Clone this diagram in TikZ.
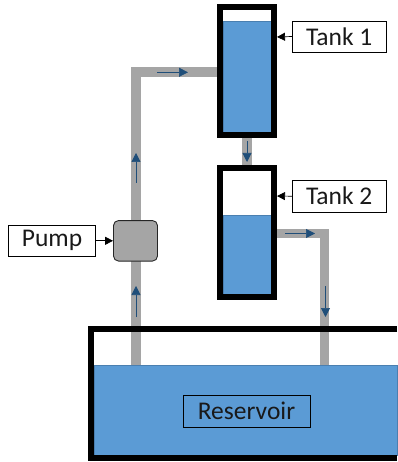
\documentclass[tikz,border=0pt]{standalone}
\usepackage{fontspec}
\setmainfont{Carlito}
\usetikzlibrary{arrows.meta}
\definecolor{water}{HTML}{5B9BD5}
\definecolor{waterb}{HTML}{4A7FB0}
\definecolor{pipec}{HTML}{A5A5A5}
\definecolor{flow}{HTML}{1F4E79}
\tikzset{
  pipe/.style={draw=pipec,line width=9.5pt,line cap=butt,line join=miter},
  flowarrow/.style={draw=flow,line width=0.7pt,-{Triangle[length=9pt,width=9pt]}},
  callout/.style={draw=black,line width=0.7pt,-{Triangle[length=8pt,width=8pt]}},
  wat/.style={fill=water,draw=waterb,line width=0.6pt},
  wall/.style={draw=black,line width=6pt,line join=miter},
  labelbox/.style={draw=black,line width=0.9pt,inner sep=0pt,font=\fontsize{25.5}{27}\selectfont,text=black!90}
}
\begin{document}
\begin{tikzpicture}[x=1pt,y=-1pt]
\useasboundingbox (0,0) rectangle (397,462);
% water
\fill[wat] (223,21) rectangle (271,132);
\fill[wat] (223,215) rectangle (271,294);
\fill[wat] (94,365) rectangle (397,455);
% named anchors
\coordinate (resL) at (136,365);
\coordinate (resR) at (324.5,365);
\coordinate (t1L) at (217,72);
\coordinate (t1B) at (247,138);
\coordinate (t2T) at (247,165);
\coordinate (t2R) at (277,233.5);
\coordinate (cornerA) at (136,72);
\coordinate (cornerB) at (324.5,233.5);
\coordinate (t1E) at (277,37);
\coordinate (t2E) at (277,196);
% pipes
\draw[pipe] (resL) -- (cornerA) -- (t1L);
\draw[pipe] (t1B) -- (t2T);
\draw[pipe] (t2R) -- (cornerB) -- (resR);
% walls
\draw[wall] (220,7) rectangle (274,135);
\draw[wall] (220,168) rectangle (274,297);
\draw[wall] (397,329) -- (91,329) -- (91,458) -- (397,458);
% pump
\node[draw=black!85,fill=pipec,line width=0.9pt,rounded corners=5pt,minimum width=44pt,minimum height=40.5pt,inner sep=0pt] (pump) at (135.5,240.8) {};
% labels
\node[labelbox,minimum width=93.5pt,minimum height=31pt] (tank1) at (339.2,36.5) {Tank 1};
\node[labelbox,minimum width=93.5pt,minimum height=31.5pt] (tank2) at (339.2,196.2) {Tank 2};
\node[labelbox,minimum width=87pt,minimum height=30.5pt] (pumpl) at (52,240.8) {Pump};
\node[labelbox,minimum width=127pt,minimum height=32pt] (res) at (246.5,411) {Reservoir};
% callouts
\draw[callout] (tank1.west) -- (t1E);
\draw[callout] (tank2.west) -- (t2E);
\draw[callout] (pumpl.east) -- (pump.west);
% flow arrows
\coordinate (a1s) at (136,317); \coordinate (a1e) at (136,286);
\coordinate (a2s) at (136,183); \coordinate (a2e) at (136,153);
\coordinate (a3s) at (157,72.3); \coordinate (a3e) at (188,72.3);
\coordinate (a4s) at (247,141); \coordinate (a4e) at (247,162);
\coordinate (a5s) at (285,233.5); \coordinate (a5e) at (315,233.5);
\coordinate (a6s) at (325.5,286); \coordinate (a6e) at (325.5,317);
\draw[flowarrow] (a1s) -- (a1e);
\draw[flowarrow] (a2s) -- (a2e);
\draw[flowarrow] (a3s) -- (a3e);
\draw[flowarrow] (a4s) -- (a4e);
\draw[flowarrow] (a5s) -- (a5e);
\draw[flowarrow] (a6s) -- (a6e);
\end{tikzpicture}
\end{document}
